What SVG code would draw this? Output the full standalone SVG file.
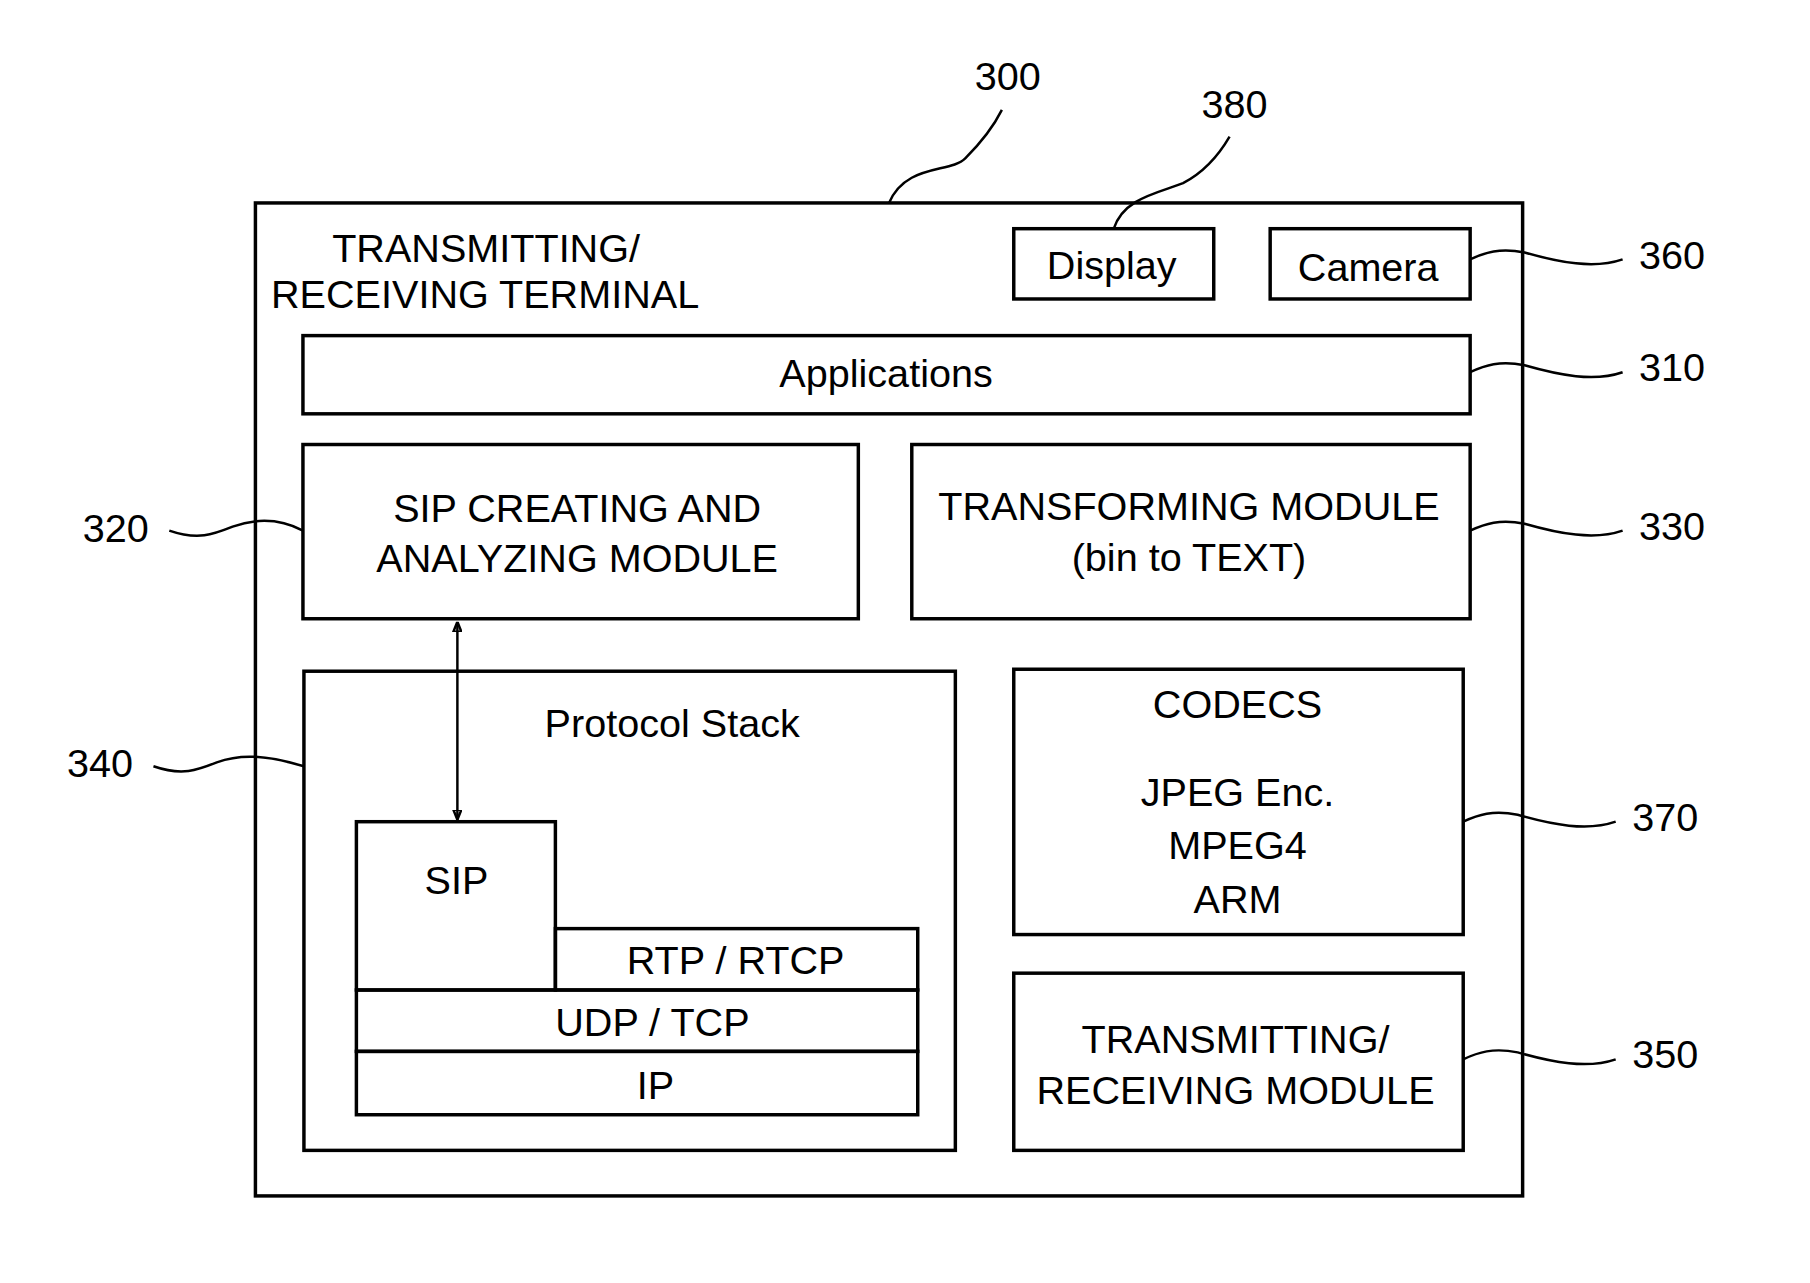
<svg xmlns="http://www.w3.org/2000/svg" width="1810" height="1283" viewBox="0 0 1810 1283">
<style>
rect{fill:none;stroke:#000;stroke-width:3.5}
path{fill:none;stroke:#000;stroke-width:2.5}
text{font-family:"Liberation Sans",Arial,sans-serif;font-size:40px;text-anchor:middle;fill:#000}
</style>
<defs><marker id="a" viewBox="0 0 10 10" refX="10" refY="5" markerWidth="10" markerHeight="10" orient="auto-start-reverse" markerUnits="userSpaceOnUse"><path d="M0,1 L10,5 L0,9 Z" fill="#000" stroke="none"/></marker></defs>
<g transform="scale(0.990)">
<g id="n300"><rect x="258" y="205" width="1280" height="1003"/>
<text x="491" y="265">TRANSMITTING/</text><text x="490" y="311">RECEIVING TERMINAL</text></g>
<g id="n380"><rect x="1024" y="231" width="202" height="71"/><text x="1123" y="282">Display</text></g>
<g id="n360"><rect x="1283" y="231" width="202" height="71"/><text x="1382" y="284">Camera</text></g>
<g id="n310"><rect x="306" y="339" width="1179" height="79"/><text x="895" y="391">Applications</text></g>
<g id="n320"><rect x="306" y="449" width="561" height="176"/><text x="583" y="527">SIP CREATING AND</text><text x="583" y="578">ANALYZING MODULE</text></g>
<g id="n330"><rect x="921" y="449" width="564" height="176"/><text x="1201" y="525">TRANSFORMING MODULE</text><text x="1201" y="577">(bin to TEXT)</text></g>
<g id="n340"><rect x="307" y="678" width="658" height="484"/><text x="679" y="744">Protocol Stack</text>
<rect x="360" y="830" width="201" height="170"/><text x="461" y="903">SIP</text>
<rect x="561" y="938" width="366" height="62"/><text x="743" y="984">RTP / RTCP</text>
<rect x="360" y="1000" width="567" height="62"/><text x="659" y="1046">UDP / TCP</text>
<rect x="360" y="1062" width="567" height="64"/><text x="662" y="1110">IP</text></g>
<g id="n370"><rect x="1024" y="676" width="454" height="268"/><text x="1250" y="725">CODECS</text><text x="1250" y="814">JPEG Enc.</text><text x="1250" y="868">MPEG4</text><text x="1250" y="922">ARM</text></g>
<g id="n350"><rect x="1024" y="983" width="454" height="179"/><text x="1248" y="1064">TRANSMITTING/</text><text x="1248" y="1115">RECEIVING MODULE</text></g>
<g id="connectors">
<path d="M462,628 L462,828" marker-start="url(#a)" marker-end="url(#a)"/>
<path d="M898,205 C915,165 960,175 975,160 C995,140 1005,125 1012,111"/>
<path d="M1125,231 C1135,200 1170,195 1195,185 C1220,172 1235,150 1242,138"/>
<path d="M1485,262 C1500,255 1515,250 1540,255 C1575,265 1610,272 1639,262"/>
<path d="M1485,376 C1500,369 1515,364 1540,369 C1575,379 1610,386 1639,376"/>
<path d="M1485,536 C1500,529 1515,524 1540,529 C1575,539 1610,546 1639,536"/>
<path d="M1478,830 C1493,823 1508,818 1533,823 C1568,833 1603,840 1632,830"/>
<path d="M1478,1070 C1493,1063 1508,1058 1533,1063 C1568,1073 1603,1080 1632,1070"/>
<path d="M171,536 C200,546 215,540 235,532 C260,523 285,525 306,536"/>
<path d="M155,774 C184,784 199,778 219,770 C244,761 269,763 307,774"/>
</g>
<g id="labels">
<text x="1018" y="91">300</text><text x="1247" y="119">380</text>
<text x="1689" y="272">360</text><text x="1689" y="385">310</text><text x="1689" y="545">330</text>
<text x="1682" y="839">370</text><text x="1682" y="1079">350</text>
<text x="117" y="547">320</text><text x="101" y="785">340</text>
</g>
</g>
</svg>
